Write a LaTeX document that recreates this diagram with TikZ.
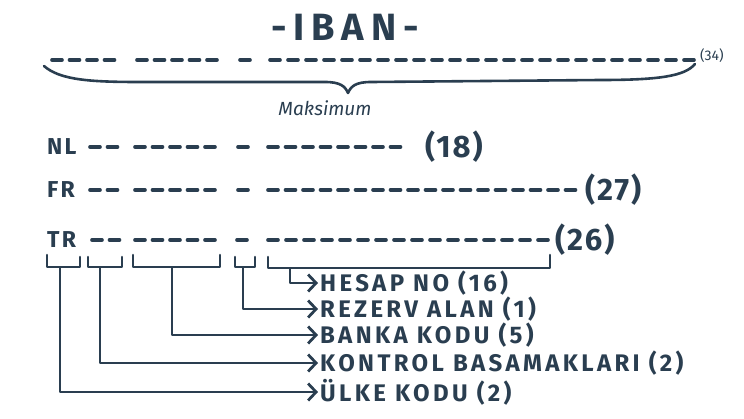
\documentclass[tikz,border=0pt]{standalone}
\usepackage{fontspec}
\setmainfont{Fira Sans}
\usetikzlibrary{arrows.meta}

\definecolor{ink}{RGB}{42,62,80}

% one group of IBAN character dashes: start x, y, count, pitch
\newcommand{\dashgroup}[4]{%
  \foreach \i in {1,...,#3}
    \draw[dsh] ({#1+(\i-1)*#4},#2) -- ++(10,0);
}

\begin{document}
\begin{tikzpicture}[
    x=1pt, y=-1pt,
    dsh/.style={ink, line width=3.6pt, line cap=round},
    brc/.style={ink, line width=2.6pt, line cap=round, line join=round},
    code/.style={ink, anchor=west, inner sep=0pt, font=\fontsize{23}{23}\selectfont\bfseries\addfontfeature{LetterSpace=10}},
    total/.style={ink, anchor=west, inner sep=0pt, font=\fontsize{31}{31}\selectfont\bfseries\addfontfeature{LetterSpace=6}},
    part/.style={ink, anchor=west, inner sep=2pt, font=\fontsize{24}{24}\selectfont\bfseries\addfontfeature{LetterSpace=14}},
    link/.style={ink, line width=2.8pt, line join=round, -{Straight Barb[length=8pt, width=17pt, line width=2.8pt]}}
]
    \useasboundingbox (0,0) rectangle (744,418);

    % Title
    \node[ink, font=\fontsize{38}{38}\selectfont\bfseries\addfontfeature{LetterSpace=18}] (title) at (345,27) {-IBAN-};

    % Maximum length
    \dashgroup{52}{60}{4}{17.5}
    \dashgroup{137}{60}{5}{17.5}
    \dashgroup{240}{60}{1}{17.5}
    \dashgroup{270}{60}{24}{18}
    \node[ink, anchor=west, inner sep=0pt, font=\fontsize{14}{14}\selectfont] (maxlen) at (700,56) {(34)};
    \draw[brc] (44,66) .. controls (60,80) and (90,82) .. (140,82) -- (325,82)
        .. controls (340,82) and (345,86) .. (348,93)
        .. controls (351,86) and (356,82) .. (371,82) -- (600,80)
        .. controls (660,80) and (685,76) .. (695,64);
    \node[ink, font=\fontsize{19}{19}\selectfont\itshape] (maks) at (325,108) {Maksimum};

    % NL
    \node[code] (nl) at (47,147) {NL};
    \dashgroup{90}{147}{2}{17.5}
    \dashgroup{135}{147}{5}{17.5}
    \dashgroup{238}{147}{1}{17.5}
    \dashgroup{268}{147}{8}{17.5}
    \node[total] (nllen) at (425,147) {(18)};

    % FR
    \node[code] (fr) at (47,190) {FR};
    \dashgroup{90}{190}{2}{17.5}
    \dashgroup{135}{190}{5}{17.5}
    \dashgroup{238}{190}{1}{17.5}
    \dashgroup{268}{190}{18}{17.5}
    \node[total] (frlen) at (585,190) {(27)};

    % TR
    \node[code] (tr) at (47,240) {TR};
    \dashgroup{92}{240}{2}{17.5}
    \dashgroup{135}{240}{5}{17.5}
    \dashgroup{237}{240}{1}{17.5}
    \dashgroup{268}{240}{16}{18}
    \node[total] (trlen) at (555,240) {(26)};

    % Brackets under TR
    \draw[brc] (47,255) -- (47,267) -- (80,267) -- (80,257);
    \draw[brc] (88,257) -- (88,267) -- (122,267) -- (122,257);
    \draw[brc] (133,255) -- (133,267) -- (220,267) -- (220,255);
    \draw[brc] (235,257) -- (235,267) -- (255,267) -- (255,257);
    \draw[brc] (268,257) -- (268,268) -- (550,268) -- (550,255);
    \coordinate (ulkeb) at (60,267);
    \coordinate (kontb) at (100,267);
    \coordinate (bankb) at (172,267);
    \coordinate (rezb) at (243,267);
    \coordinate (hesb) at (290,268);

    % Parts
    \node[part] (hesap) at (318,283) {HESAP NO (16)};
    \node[part] (rezerv) at (318,309) {REZERV ALAN (1)};
    \node[part] (banka) at (318,335) {BANKA KODU (5)};
    \node[part] (kontrol) at (318,363) {KONTROL BASAMAKLARI (2)};
    \node[part] (ulke) at (318,392) {ÜLKE KODU (2)};

    % Connections
    \draw[link] (hesb) |- (hesap.west);
    \draw[link] (rezb) |- (rezerv.west);
    \draw[link] (bankb) |- (banka.west);
    \draw[link] (kontb) |- (kontrol.west);
    \draw[link] (ulkeb) |- (ulke.west);
\end{tikzpicture}
\end{document}
